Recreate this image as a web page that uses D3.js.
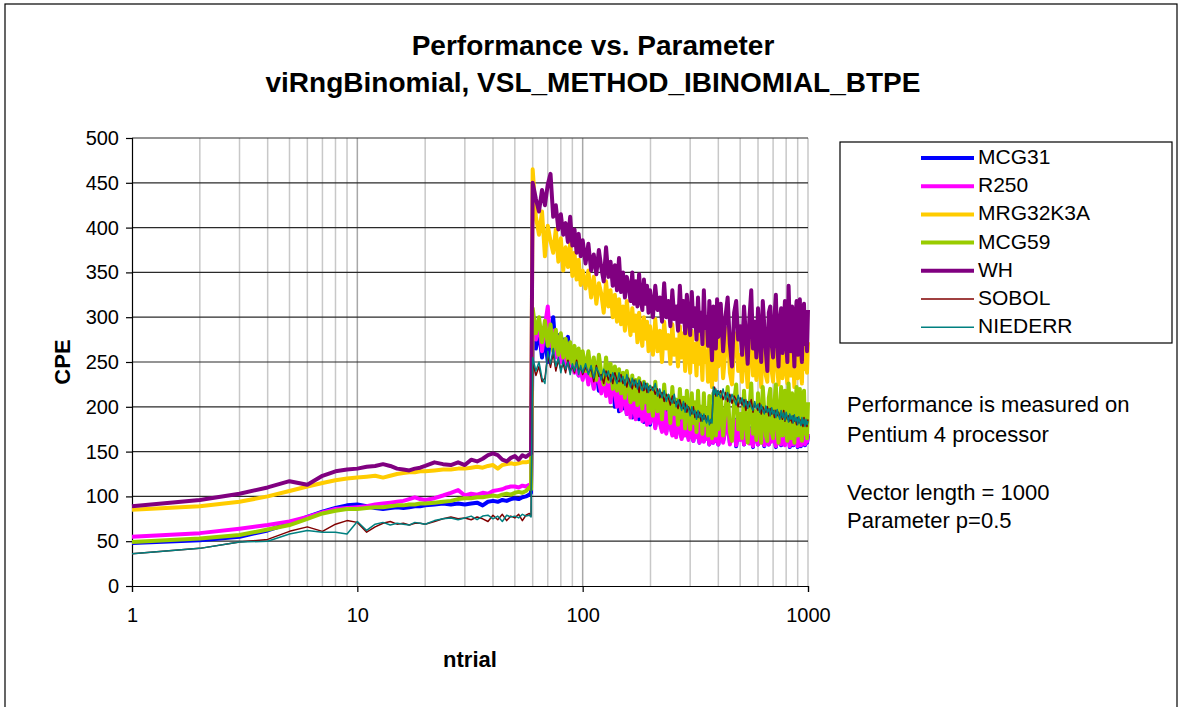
<!DOCTYPE html>
<html>
<head>
<meta charset="utf-8">
<script src="https://cdn.jsdelivr.net/npm/d3@7"></script>
<style>
  html, body { margin: 0; padding: 0; background: #fff; }
  svg { display: block; font-family: "Liberation Sans", Arial, sans-serif; }
</style>
</head>
<body>
<svg id="chart" width="1183" height="707"></svg>
<script>
// ---------------- DATA ----------------
const titleLines = ["Performance vs. Parameter", "viRngBinomial, VSL_METHOD_IBINOMIAL_BTPE"];
const xLabel = "ntrial";
const yLabel = "CPE";
const xTicks = [1, 10, 100, 1000];
const yTicks = [0, 50, 100, 150, 200, 250, 300, 350, 400, 450, 500];
const notes = ["Performance is measured on", "Pentium 4 processor", "", "Vector length = 1000", "Parameter p=0.5"];

const seriesNames = ["MCG31", "R250", "MRG32K3A", "MCG59", "WH", "SOBOL", "NIEDERR"];

const ntrialLow = [1,2,3,4,5,6,7,8,9,10,11,12,13,14,15,16,17,18,19,20,
  22,24,26,28,30,32,34,36,38,40,42,44,46,48,50,52,54,56,58,59];
const ntrialHigh = [
  60,62,64,66,68,70,72,74,76,78,80,82,84,86,88,90,92,94,96,98,100,
  103,106,109,112,115,118,121,124,127,130,133,136,139,142,145,148,151,154,157,160,163,166,169,172,175,178,181,184,187,190,193,196,199,
  205,210,215,220,225,230,235,240,245,250,255,260,265,270,275,280,285,290,295,300,305,310,315,320,325,330,335,340,345,350,355,360,365,370,375,380,385,390,395,400,
  410,420,430,440,450,460,470,480,490,500,510,520,530,540,550,560,570,580,590,600,610,620,630,640,650,660,670,680,690,700,
  710,720,730,740,750,760,770,780,790,800,810,820,830,840,850,860,870,880,890,900,910,920,930,940,950,960,970,980,990,1000];

const mcg31Low = [48,51,55,62,70,77,83,87,90,91, 89,87,86,87,88,87,88,89,89,90,
  91,92,91,92,91,92,93,90,94,95,94,96,95,97,98,97,99,100,102, 104];
const r250Low = [55,59,64,68,72,77,82,86,87,88, 89,91,92,93,94,95,97,99,97,96,
  98,101,104,107,101,103,102,104,103,106,107,108,110,111,111,110,112,111,113, 113];
const mrgLow = [85,89,94,100,106,111,115,118,120,121, 122,123,121,123,125,126,127,127,128,128,
  129,130,130,131,131,132,133,132,134,135,131,135,136,137,136,137,138,138,139, 139];
const mcg59Low = [49,53,57,63,68,75,81,84,86,86, 87,88,88,89,90,90,91,91,92,92,
  93,94,95,97,98,98,99,99,100,101,100,102,103,102,104,105,104,106,110, 108];
const whLow = [89,96,103,110,117,113,123,128,130,131, 133,134,136,134,131,130,129,131,132,134,
  138,136,135,138,135,141,139,142,146,148,146,141,139,143,145,141,146,144,147, 148];
const sobolLow = [36,42,49,52,61,66,61,69,73,71, 60,66,70,72,69,70,68,70,70,69,
  72,75,77,75,76,74,77,75,72,79,74,80,73,78,76,80,73,79,81, 78];
const niederrLow = [36,42,49,50,58,62,60,60,58,72, 62,69,71,68,70,69,68,71,70,69,
  73,75,76,74,76,78,74,78,79,75,78,72,79,77,78,76,80,78,79, 77];

const mcg31High = [
  290,265,285,255,280,250,285,300,262,280,255,275,268,278,250,265,240,258,235,252,232,
  245,228,248,222,242,218,238,225,215,240,210,232,200,228,195,220,198,225,192,215,205,188,218,190,212,186,210,195,183,208,185,205,180,
  205,178,200,185,175,202,172,196,180,170,198,168,192,175,166,195,170,188,165,192,172,162,190,168,185,160,188,170,162,186,165,182,158,185,168,160,184,162,180,158,
  185,162,175,190,160,170,186,156,178,165,188,158,172,184,160,176,155,186,168,158,182,162,175,156,185,165,158,180,162,187,
  170,155,182,160,176,157,184,166,158,181,162,175,155,184,165,157,180,160,174,155,182,163,156,178,160,183,157,172,160,168];
const r250High = [
  305,275,295,262,290,312,268,285,255,278,250,272,245,268,242,262,238,258,235,255,230,
  248,225,245,220,240,228,215,238,212,235,205,230,215,200,228,196,222,205,192,220,188,215,198,186,212,190,208,184,205,190,180,202,182,
  200,176,198,182,172,196,170,194,178,168,195,166,190,174,164,192,168,186,163,190,170,162,188,166,184,160,186,168,161,185,164,180,158,184,166,160,183,162,179,158,
  182,160,174,188,158,168,185,157,176,163,186,158,170,183,159,175,156,185,166,158,181,160,174,157,184,164,158,179,161,186,
  168,156,181,159,175,158,183,165,157,180,161,174,156,183,164,158,179,160,173,156,181,162,157,177,160,182,158,171,161,170];
const mrgHigh = [
  465,412,392,418,368,402,385,372,398,362,388,352,378,356,382,346,372,342,364,336,352,
  332,352,322,345,315,338,326,305,340,312,330,300,325,295,320,292,312,285,318,298,280,310,285,302,272,305,282,268,300,276,295,262,290,
  258,298,262,285,250,295,265,280,248,292,258,275,245,290,255,282,240,288,262,238,285,250,270,235,282,248,265,230,285,250,262,228,278,242,222,272,255,230,280,245,
  280,232,262,288,238,225,270,282,240,258,228,290,248,222,265,285,235,260,230,288,250,222,280,258,235,228,272,285,240,228,
  268,290,245,225,262,285,232,255,282,240,226,290,258,235,280,250,222,270,285,232,258,288,240,226,275,290,242,265,238,272];
const mcg59High = [
  310,282,300,272,296,268,292,262,286,258,282,255,276,252,272,248,268,245,265,242,262,
  240,262,235,255,230,258,238,225,255,228,248,220,245,218,242,215,238,210,240,222,205,235,208,230,202,232,210,198,228,205,225,195,222,
  190,228,195,215,186,225,198,212,182,222,192,208,180,220,188,210,176,218,195,175,215,182,205,172,218,185,200,170,215,180,198,168,212,178,165,215,190,168,212,175,
  215,168,195,222,172,162,205,225,175,192,165,218,182,160,200,226,170,195,163,215,185,160,222,195,168,162,210,220,172,165,
  205,225,178,160,198,222,168,190,218,170,162,226,192,165,215,182,160,205,222,168,190,220,172,162,208,218,170,195,165,205];
const whHigh = [
  450,432,418,442,425,448,460,412,425,398,415,392,405,384,412,380,398,372,393,368,386,
  360,382,352,370,348,375,355,340,378,345,362,335,358,330,366,328,350,322,345,335,318,350,315,340,312,348,320,308,342,315,335,305,330,
  300,335,308,322,295,338,300,318,290,330,298,312,285,335,295,318,282,325,300,280,328,290,310,275,322,285,305,270,330,288,300,268,318,280,252,312,290,265,320,278,
  315,262,300,322,270,245,305,318,275,290,258,312,280,248,300,330,265,295,255,310,280,250,318,290,262,240,305,312,270,255,
  300,325,272,245,298,310,260,285,318,270,250,335,288,262,312,280,245,300,318,258,290,320,265,250,305,315,270,295,262,308];
const sobolHigh = [
  250,235,245,228,232,258,244,260,240,252,242,248,238,252,240,245,238,252,240,244,236,
  244,238,242,228,246,234,236,226,240,230,236,226,238,230,228,236,226,230,222,232,226,220,230,222,226,216,228,222,218,226,216,222,218,
  222,214,220,210,216,206,214,210,202,212,204,206,198,208,200,198,204,194,200,196,192,200,188,194,188,194,184,190,186,190,184,186,184,182,186,218,222,212,218,214,
  218,208,216,206,214,204,212,208,200,210,202,208,196,206,200,208,194,204,200,196,204,192,200,196,194,200,190,198,192,196,
  188,196,190,194,188,192,186,196,184,192,186,190,184,188,182,190,184,186,180,188,182,186,180,184,178,188,180,184,178,186];
const niederrHigh = [
  255,240,250,232,226,262,248,265,245,255,238,252,242,250,236,248,240,250,236,246,238,
  248,236,246,232,244,238,230,242,234,240,228,238,232,226,238,228,234,224,236,228,222,232,224,230,220,230,222,218,228,220,226,216,224,
  218,226,212,220,210,218,206,214,208,204,214,200,208,202,196,206,194,202,198,190,200,192,196,186,196,188,192,184,192,186,182,190,180,186,182,222,214,220,212,218,
  210,220,208,216,205,214,208,202,213,204,210,200,208,198,206,200,196,206,198,203,194,202,196,192,201,194,198,190,199,192,
  196,188,197,190,186,196,188,193,185,194,188,183,192,186,190,182,191,184,188,180,189,183,179,188,181,186,178,186,180,184];

// ---------------- STYLE ----------------
const styles = {
  "MCG31":    { color: "#0000ff", width: 4 },
  "R250":     { color: "#ff00ff", width: 4 },
  "MRG32K3A": { color: "#ffcc00", width: 4 },
  "MCG59":    { color: "#99cc00", width: 4 },
  "WH":       { color: "#800080", width: 4 },
  "SOBOL":    { color: "#800000", width: 1.5 },
  "NIEDERR":  { color: "#008080", width: 1.5 }
};

const lowData = [mcg31Low, r250Low, mrgLow, mcg59Low, whLow, sobolLow, niederrLow];
const highData = [mcg31High, r250High, mrgHigh, mcg59High, whHigh, sobolHigh, niederrHigh];

function zip(xs, vs) {
  const n = Math.min(xs.length, vs.length);
  const out = [];
  for (let i = 0; i < n; i++) out.push([xs[i], vs[i]]);
  return out;
}

const series = seriesNames.map((name, i) => ({
  name,
  values: zip(ntrialLow, lowData[i]).concat(zip(ntrialHigh, highData[i]))
}));

// ---------------- CHART ----------------
const svg = d3.select("#chart");
const font = '"Liberation Sans", Arial, sans-serif';

// outer frame
svg.append("rect").attr("x", 5).attr("y", 4).attr("width", 1172).attr("height", 720)
  .attr("fill", "#fff").attr("stroke", "#000").attr("stroke-width", 1.2);

const plot = { left: 132, right: 808, top: 138, bottom: 586 };
const x = d3.scaleLog().domain([1, 1000]).range([plot.left, plot.right]);
const y = d3.scaleLinear().domain([0, 500]).range([plot.bottom, plot.top]);

// vertical gridlines (log minor)
const vGrid = [];
for (let dec = 1; dec < 1000; dec *= 10) {
  for (let k = 2; k <= 10; k++) vGrid.push(dec * k);
}
svg.append("g").selectAll("line").data(vGrid).join("line")
  .attr("x1", d => x(d)).attr("x2", d => x(d))
  .attr("y1", plot.top).attr("y2", plot.bottom)
  .attr("stroke", d => (d === 10 || d === 100) ? "#a8a8a8" : "#c8c8c8")
  .attr("stroke-width", 1.5);

// horizontal gridlines
svg.append("g").selectAll("line").data(yTicks.filter(d => d > 0)).join("line")
  .attr("x1", plot.left).attr("x2", plot.right)
  .attr("y1", d => y(d)).attr("y2", d => y(d))
  .attr("stroke", "#2a2a2a").attr("stroke-width", 1.2);

// axes
const yAxis = d3.axisLeft(y).tickValues(yTicks).tickSize(6).tickFormat(d3.format("d"));
const gy = svg.append("g").attr("transform", `translate(${plot.left},0)`).call(yAxis);
gy.select(".domain").attr("stroke", "#000").attr("stroke-width", 1.2);
gy.selectAll(".tick line").attr("stroke", "#000").attr("stroke-width", 1.2);
gy.selectAll(".tick text").attr("font-size", 20).attr("font-family", font).attr("fill", "#000").attr("x", -13);

const xAxis = d3.axisBottom(x).tickValues(xTicks).tickSize(6).tickFormat(d3.format("d"));
const gx = svg.append("g").attr("transform", `translate(0,${plot.bottom})`).call(xAxis);
gx.select(".domain").attr("stroke", "#000").attr("stroke-width", 1.2);
gx.selectAll(".tick line").attr("stroke", "#000").attr("stroke-width", 1.2);
gx.selectAll(".tick text").attr("font-size", 20).attr("font-family", font).attr("fill", "#000").attr("y", 22);

// series
const line = d3.line().x(d => x(d[0])).y(d => y(d[1]));
svg.append("g").selectAll("path").data(series).join("path")
  .attr("d", d => line(d.values))
  .attr("fill", "none")
  .attr("stroke", d => styles[d.name].color)
  .attr("stroke-width", d => styles[d.name].width)
  .attr("stroke-linejoin", "round");

// title
svg.append("g").selectAll("text").data(titleLines).join("text")
  .attr("x", 593).attr("y", (d, i) => i === 0 ? 55 : 92)
  .attr("text-anchor", "middle").attr("font-size", 28).attr("font-weight", "bold")
  .attr("font-family", font).text(d => d);

// axis titles
svg.append("text").attr("x", 470).attr("y", 667).attr("text-anchor", "middle")
  .attr("font-size", 22).attr("font-weight", "bold").attr("font-family", font).text(xLabel);
svg.append("text").attr("transform", "translate(70,362) rotate(-90)").attr("text-anchor", "middle")
  .attr("font-size", 22).attr("font-weight", "bold").attr("font-family", font).text(yLabel);

// legend
const leg = svg.append("g");
leg.append("rect").attr("x", 840).attr("y", 142).attr("width", 332).attr("height", 201)
  .attr("fill", "#fff").attr("stroke", "#000").attr("stroke-width", 1.2);
const legItems = leg.selectAll("g.item").data(seriesNames).join("g")
  .attr("transform", (d, i) => `translate(0,${158 + i * 28.2})`);
legItems.append("line").attr("x1", 921).attr("x2", 974).attr("y1", 0).attr("y2", 0)
  .attr("stroke", d => styles[d].color).attr("stroke-width", d => styles[d].width);
legItems.append("text").attr("x", 978).attr("y", 6).attr("font-size", 21)
  .attr("font-family", font).text(d => d);

// notes
const noteY = [412, 442, 471, 500, 528];
svg.append("g").selectAll("text").data(notes).join("text")
  .attr("x", 847).attr("y", (d, i) => noteY[i]).attr("font-size", 22)
  .attr("font-family", font).text(d => d);
</script>
</body>
</html>
